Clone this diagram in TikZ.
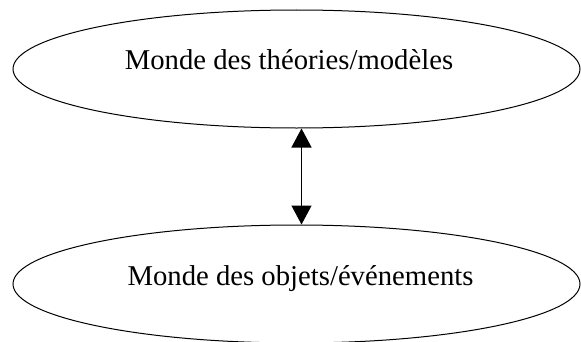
\documentclass[tikz,border=0pt]{standalone}
\usepackage{fontspec}
\setmainfont{Liberation Serif}
\usetikzlibrary{arrows.meta,shapes.geometric}

\begin{document}
\begin{tikzpicture}[x=1pt,y=1pt,
  monde/.style={draw,ellipse,line width=1pt,minimum width=567pt,minimum height=118pt,inner sep=0pt},
  txt/.style={font=\fontsize{28.7}{34}\selectfont,anchor=base,inner sep=0pt},
  lien/.style={{Triangle[width=20pt,length=19pt]}-{Triangle[width=20pt,length=19pt]},line width=1.3pt}]
\useasboundingbox (0,0) rectangle (581,341);

\node[monde] (theo) at (296.5,272) {};
\node[monde] (obj) at (296.5,57) {};

\node[txt] (theotxt) at (289,272) {Monde des théories/modèles};
\node[txt] (objtxt) at (300.5,56) {Monde des objets/événements};

\draw[lien] ([xshift=5pt]theo.south) -- ([xshift=5pt]obj.north);

\end{tikzpicture}
\end{document}
